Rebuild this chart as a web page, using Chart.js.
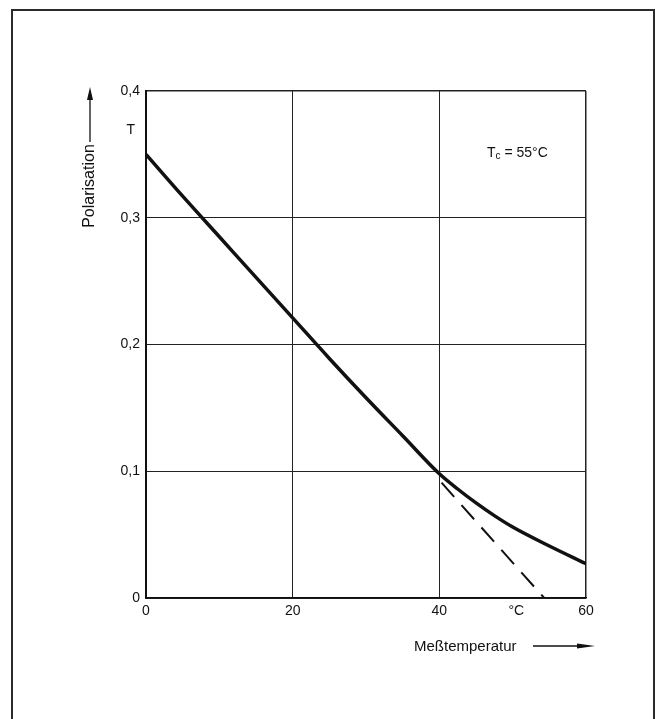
<!DOCTYPE html>
<html>
<head>
<meta charset="utf-8">
<script src="https://cdn.jsdelivr.net/npm/chart.js@4/dist/chart.umd.min.js"></script>
<style>
  html, body { margin: 0; padding: 0; background: #fff; overflow: hidden; }
  #wrap { position: relative; width: 655px; height: 719px; }
  #frame { position: absolute; left: 11px; top: 9px; width: 644px; height: 760px;
           box-sizing: border-box; border: 2px solid #2b2b2b; border-bottom: none; pointer-events: none; }
  canvas { position: absolute; left: 0; top: 0; }
</style>
</head>
<body>
<div id="wrap">
  <canvas id="c" width="655" height="719"></canvas>
  <div id="frame"></div>
</div>
<script>
// ---- data ----
const temperature = [0, 5, 10, 15, 20, 25, 30, 35, 40, 42.5, 45, 47.5, 50, 55, 60];
const polarisation = [0.350, 0.317, 0.285, 0.253, 0.221, 0.189, 0.158, 0.128, 0.098, 0.086, 0.075, 0.065, 0.056, 0.041, 0.027];
const extrapTemperature = [40.3, 54.3];
const extrapPolarisation = [0.091, 0];
const xTicks = [0, 20, 40, 60];
const yTicks = [0, 0.1, 0.2, 0.3, 0.4];
const xTitle = 'Meßtemperatur';
const yTitle = 'Polarisation';
const yUnit = 'T';
const xUnit = '°C';
const xUnitPos = 50.5;
const yUnitPos = 0.369;
const tcLabel = { main: 'T', sub: 'c', rest: ' = 55°C', x: 46.5, y: 0.348 };

const FONT = "'Liberation Sans', Arial, Helvetica, sans-serif";
const INK = '#111';

const annotations = {
  id: 'annotations',
  afterDraw(chart) {
    const { ctx, scales: { x, y } } = chart;
    ctx.save();
    ctx.fillStyle = INK;
    ctx.strokeStyle = INK;
    // unit labels
    ctx.font = '14px ' + FONT;
    ctx.textAlign = 'right';
    ctx.textBaseline = 'middle';
    ctx.fillText(yUnit, x.left - 11, y.getPixelForValue(yUnitPos));
    ctx.textAlign = 'center';
    ctx.textBaseline = 'top';
    ctx.fillText(xUnit, x.getPixelForValue(xUnitPos), y.bottom + 6);
    // Tc annotation
    let px = x.getPixelForValue(tcLabel.x);
    const py = y.getPixelForValue(tcLabel.y);
    ctx.textAlign = 'left';
    ctx.textBaseline = 'alphabetic';
    ctx.font = '14px ' + FONT;
    ctx.fillText(tcLabel.main, px, py);
    px += ctx.measureText(tcLabel.main).width;
    ctx.font = '10px ' + FONT;
    ctx.fillText(tcLabel.sub, px, py + 2);
    px += ctx.measureText(tcLabel.sub).width;
    ctx.font = '14px ' + FONT;
    ctx.fillText(tcLabel.rest, px, py);
    // x title with arrow
    ctx.font = '15px ' + FONT;
    ctx.textAlign = 'left';
    ctx.fillText(xTitle, 414, 651);
    ctx.lineWidth = 1.3;
    ctx.beginPath(); ctx.moveTo(533, 646); ctx.lineTo(580, 646); ctx.stroke();
    ctx.beginPath(); ctx.moveTo(595, 646); ctx.lineTo(577, 643.5); ctx.lineTo(577, 648.5); ctx.closePath(); ctx.fill();
    // y title with arrow
    ctx.save();
    ctx.font = '16px ' + FONT;
    ctx.translate(93.5, 186);
    ctx.rotate(-Math.PI / 2);
    ctx.textAlign = 'center';
    ctx.fillText(yTitle, 0, 0);
    ctx.restore();
    ctx.beginPath(); ctx.moveTo(90, 142); ctx.lineTo(90, 98); ctx.stroke();
    ctx.beginPath(); ctx.moveTo(90, 87); ctx.lineTo(87, 100); ctx.lineTo(93, 100); ctx.closePath(); ctx.fill();
    ctx.restore();
  }
};

new Chart(document.getElementById('c'), {
  type: 'line',
  data: {
    datasets: [
      {
        data: temperature.map((t, i) => ({ x: t, y: polarisation[i] })),
        borderColor: INK, borderWidth: 3.5, pointRadius: 0,
        cubicInterpolationMode: 'monotone', fill: false
      },
      {
        data: extrapTemperature.map((t, i) => ({ x: t, y: extrapPolarisation[i] })),
        borderColor: INK, borderWidth: 2, borderDash: [19, 11], pointRadius: 0, fill: false
      }
    ]
  },
  options: {
    responsive: false,
    animation: false,
    devicePixelRatio: 1,
    layout: { padding: { left: 0, top: 91, right: 69, bottom: 0 } },
    plugins: { legend: { display: false }, tooltip: { enabled: false } },
    scales: {
      x: {
        type: 'linear', min: 0, max: 60,
        afterBuildTicks: s => { s.ticks = xTicks.map(v => ({ value: v })); },
        afterFit: s => { s.height = 121; },
        ticks: { color: INK, font: { family: FONT, size: 14 }, padding: 5, maxRotation: 0,
                 callback: v => String(v) },
        grid: { color: '#222', lineWidth: c => (c.tick && c.tick.value === 60 ? 1.5 : 1), drawTicks: false },
        border: { display: true, color: '#111', width: 1.5 }
      },
      y: {
        type: 'linear', min: 0, max: 0.4,
        afterBuildTicks: s => { s.ticks = yTicks.map(v => ({ value: v })); },
        afterFit: s => { s.width = 146; },
        ticks: { color: INK, font: { family: FONT, size: 14 }, padding: 6,
                 callback: v => (v === 0 ? '0' : v.toFixed(1).replace('.', ',')) },
        grid: { color: '#222', lineWidth: c => (c.tick && Math.abs(c.tick.value - 0.4) < 1e-9 ? 1.5 : 1), drawTicks: false },
        border: { display: true, color: '#111', width: 2 }
      }
    }
  },
  plugins: [annotations]
});
</script>
</body>
</html>
